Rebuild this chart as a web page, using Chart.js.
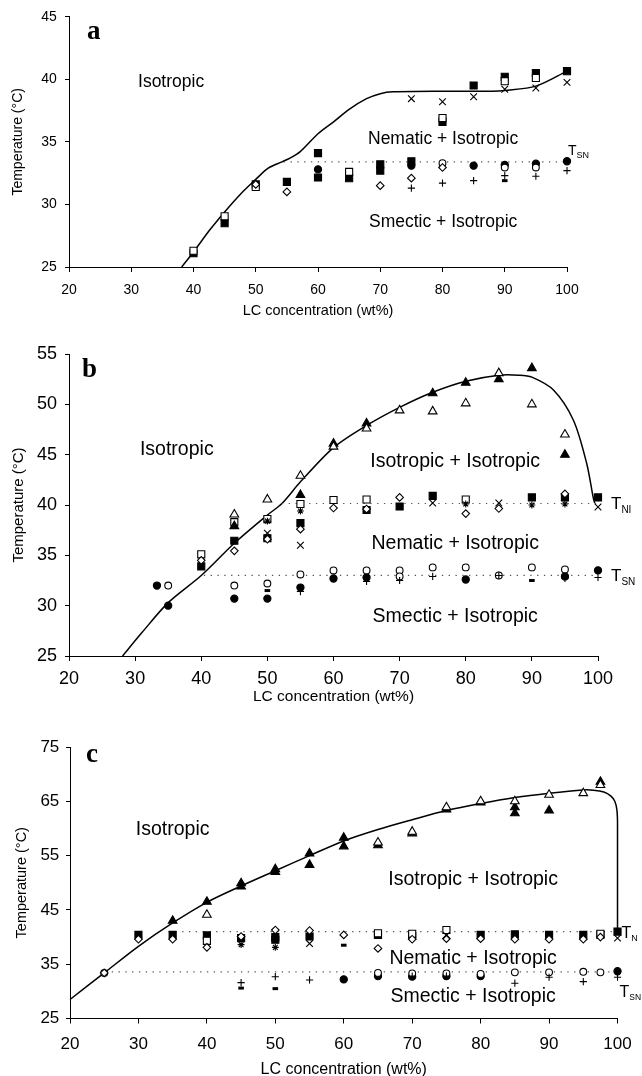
<!DOCTYPE html>
<html>
<head>
<meta charset="utf-8">
<script src="https://cdn.jsdelivr.net/npm/chart.js@4.4.1/dist/chart.umd.min.js"></script>
<style>
  html, body { margin: 0; padding: 0; background: #fff; }
  body { width: 642px; height: 1076px; overflow: hidden; position: relative; }
  .panel { position: absolute; left: 0; width: 642px; }
  canvas { display: block; }
</style>
</head>
<body>
<div class="panel" style="top:0;height:330px"><canvas id="chart-a" width="642" height="330"></canvas></div>
<div class="panel" style="top:335px;height:380px"><canvas id="chart-b" width="642" height="380"></canvas></div>
<div class="panel" style="top:720px;height:380px"><canvas id="chart-c" width="642" height="380"></canvas></div>
<script>
// ---- panel a : [LC wt%, temperature °C] ----
var aFilledSquare = [[40,26.1],[45,28.5],[50,31.6],[55,31.8],[60,34.1],[60,32.15],[65,32.1],[70,33.2],[70,32.7],[75,33.45],[80,36.6],[85,39.5],[90,40.2],[95,40.5],[100,40.65]]
var aOpenSquare = [[40,26.3],[45,29.05],[50,31.4],[65,32.6],[80,36.9],[90,39.85],[95,40.1]]
var aCross = [[75,38.45],[80,38.2],[85,38.6],[90,39.2],[95,39.3],[100,39.75]]
var aDiamond = [[50,31.6],[55,31.0],[70,31.5],[75,32.1],[80,32.95]]
var aPlus = [[75,31.3],[80,31.7],[85,31.9],[90,32.3],[95,32.25],[100,32.7]]
var aOpenCircle = [[80,33.3],[90,32.95],[95,32.95]]
var aFilledCircle = [[60,32.8],[75,33.1],[85,33.1],[90,33.15],[95,33.25],[100,33.45]]
var aDash = [[90,31.9]]
var aBoundary = [[38.1,25],[40,26.2],[42.6,27.95],[45,29.4],[47.5,30.8],[50,32.0],[52,32.9],[54.2,33.4],[55.5,33.7],[57.1,34.2],[60,35.65],[62.5,36.6],[65,37.6],[67.8,38.45],[70,38.85],[72,39.0],[80,39.05],[88,39.05],[90,39.1],[95,39.45],[100,40.65]]
var aTSN = 33.4, aTSNfrom = 54.5

// ---- panel b ----
var bFilledSquare = [[40,33.9],[45,36.45],[50,36.7],[55,38.2],[65,39.5],[70,39.85],[75,40.9],[90,40.75],[95,40.75],[100,40.75]]
var bOpenSquare = [[40,35.1],[45,38.3],[50,38.6],[55,40.1],[60,40.5],[65,40.55],[80,40.55]]
var bCross = [[50,37.2],[55,36.0],[75,40.2],[85,40.2],[100,39.8]]
var bDiamond = [[40,34.5],[45,35.45],[50,36.6],[55,37.6],[60,39.7],[65,39.6],[70,40.75],[80,39.15],[85,39.65],[95,41.1]]
var bAsterisk = [[50,38.4],[55,39.4],[80,40.1],[90,40.0],[95,40.1]]
var bPlus = [[55,31.4],[65,32.4],[70,32.5],[75,32.9],[85,33.0],[95,32.7],[100,32.8]]
var bOpenCircle = [[35,32.0],[45,32.0],[50,32.2],[55,33.1],[60,33.5],[65,33.5],[70,33.5],[70,32.9],[75,33.8],[80,33.8],[85,33.0],[90,33.8],[95,33.6]]
var bFilledCircle = [[33.3,32.0],[35,30.0],[45,30.7],[50,30.7],[55,31.8],[60,32.7],[65,32.8],[80,32.6],[95,32.9],[100,33.5]]
var bDash = [[50,31.5],[90,32.5]]
var bFilledTriangle = [[45,37.9],[55,41.0],[60,46.1],[65,48.1],[75,51.1],[80,52.15],[85,52.5],[90,53.6],[95,45.0]]
var bOpenTriangle = [[45,39.05],[50,40.55],[55,42.9],[60,45.8],[65,47.6],[70,49.4],[75,49.3],[80,50.1],[85,53.1],[90,50.0],[95,47.0]]
var bBoundary = [[28.1,25],[31,27.3],[35,30.3],[40,33.0],[45,36.2],[50,39.0],[52.2,40.15],[55,42.3],[60,45.7],[65,47.9],[70,49.7],[75,51.2],[80,52.3],[85,52.9],[88,52.9],[90,52.7],[93.3,51.4],[96.3,48.4],[98.3,44.1],[99.3,40.65],[99.5,40.2]]
var bTNI = 40.15, bTNIfrom = 52.2
var bTSN = 33.0, bTSNfrom = 40.4

// ---- panel c ----
var cFilledTriangle = [[35,43.0],[40,46.5],[45,49.9],[45,49.3],[50,52.5],[50,52.0],[55,55.4],[55,53.3],[60,58.3],[60,56.7],[65,56.9],[70,59.1],[75,63.5],[80,64.8],[85,63.9],[85,62.8],[90,63.3],[97.5,68.6]]
var cOpenTriangle = [[40,44.1],[65,57.4],[70,59.4],[75,63.9],[80,65.0],[85,65.0],[90,66.2],[95,66.5],[97.5,68.0]]
var cFilledSquare = [[30,40.4],[35,40.4],[40,40.3],[45,39.8],[50,40.0],[50,39.5],[55,40.1],[65,40.4],[70,40.2],[80,40.4],[85,40.5],[90,40.4],[95,40.4],[97.5,40.4],[100,41.0]]
var cOpenSquare = [[40,39.3],[65,40.7],[70,40.6],[75,41.3],[97.5,40.6]]
var cDiamond = [[25,33.4],[30,39.6],[35,39.6],[40,38.1],[45,40.1],[50,41.3],[55,41.2],[60,40.4],[65,37.9],[70,39.6],[75,39.7],[80,39.7],[85,39.6],[90,39.6],[95,39.6],[97.5,40.0]]
var cAsterisk = [[45,38.6],[50,38.1]]
var cCross = [[55,38.8],[75,40.3],[100,39.8]]
var cPlus = [[45,31.6],[50,32.7],[55,32.1],[70,32.8],[75,32.8],[85,31.5],[90,32.6],[95,31.8],[100,32.6]]
var cDash = [[45,30.6],[50,30.5],[60,38.5]]
var cOpenCircle = [[25,33.4],[65,33.4],[70,33.3],[75,33.3],[80,33.2],[85,33.5],[90,33.5],[95,33.6],[97.5,33.5]]
var cFilledCircle = [[60,32.2],[65,32.8],[70,32.7],[75,32.8],[80,32.8],[100,33.7]]
var cBoundary = [[20,28.5],[25,33.4],[30,38.3],[35,42.6],[40,46.4],[45,49.4],[50,52.2],[55,55.0],[60,57.7],[65,59.8],[70,61.6],[75,63.3],[80,64.6],[85,65.7],[90,66.5],[95,67.1],[96.5,67.05],[98,66.7],[99,66.0],[99.6,65.0],[99.9,63.5],[100,61],[100,41.0]]
var cTN = 41.0, cTNfrom = 34.4
var cTSN = 33.6, cTSNfrom = 26.1

var xTicks = [20, 30, 40, 50, 60, 70, 80, 90, 100]

Chart.defaults.font.family = "'Liberation Sans', Arial, sans-serif"
Chart.defaults.color = '#000'

// marker look for each kind of sample
var markerStyles = {
    filledSquare:   {style: 'rect', r: 5, fill: true},
    openSquare:     {style: 'rect', r: 5, fill: false},
    filledTriangle: {style: 'triangle', r: 5, fill: true},
    openTriangle:   {style: 'triangle', r: 5, fill: false},
    filledCircle:   {style: 'circle', r: 3.6, fill: true},
    openCircle:     {style: 'circle', r: 3.4, fill: false},
    diamond:        {style: 'rectRot', r: 3.8, fill: false},
    cross:          {style: 'crossRot', r: 4.7},
    plus:           {style: 'cross', r: 3.6},
    asterisk:       {style: 'star', r: 3.4},
    dash:           {style: 'line', r: 2.8, w: 3}
}

function toXY(pairs){
    return pairs.map(p => ({x: p[0], y: p[1]}))
}

function markerSet(pairs, kind, idx){
    let m = markerStyles[kind]
    return {
        data: toXY(pairs),
        showLine: false,
        pointStyle: m.style,
        pointRadius: m.r,
        pointHoverRadius: m.r,
        pointBackgroundColor: m.fill ? '#000' : '#fff',
        pointBorderColor: '#000',
        pointBorderWidth: m.w || 1.1,
        clip: false,
        order: 100 - idx
    }
}

function curveSet(pairs){
    return {
        data: toXY(pairs),
        showLine: true,
        borderColor: '#000',
        borderWidth: 1.5,
        pointRadius: 0,
        tension: 0.3,
        fill: false,
        clip: false,
        order: 200
    }
}

function dottedSet(from, value){
    return {
        data: [{x: from, y: value}, {x: 100, y: value}],
        showLine: true,
        borderColor: '#555',
        borderWidth: 1.2,
        borderDash: [1.3, 5.5],
        pointRadius: 0,
        fill: false,
        clip: false,
        order: 190
    }
}

// region names, panel letter and T labels on top of the data
var phaseText = {
    id: 'phaseText',
    afterDatasetsDraw(chart, args, opts){
        let ctx = chart.ctx
        let area = chart.chartArea
        let x = chart.scales.x, y = chart.scales.y
        let sans = "'Liberation Sans', Arial, sans-serif"
        ctx.save()
        ctx.fillStyle = '#000'

        ctx.font = 'bold ' + opts.letterSize + "px 'Liberation Serif', 'DejaVu Serif', serif"
        ctx.textAlign = 'left'
        ctx.textBaseline = 'alphabetic'
        ctx.fillText(opts.letter, area.left + opts.letterAt[0], area.top + opts.letterAt[1])

        ctx.font = opts.labelSize + 'px ' + sans
        ctx.textAlign = 'center'
        ctx.textBaseline = 'middle'
        opts.regions.forEach(r => {
            ctx.fillText(r.text, x.getPixelForValue(r.at[0]), y.getPixelForValue(r.at[1]))
        })

        ctx.textAlign = 'left'
        ctx.textBaseline = 'alphabetic'
        opts.temps.forEach(t => {
            let px = x.getPixelForValue(100) + t.dx
            let py = y.getPixelForValue(t.value) + t.dy
            ctx.font = t.size + 'px ' + sans
            ctx.fillText('T', px, py)
            let w = ctx.measureText('T').width
            ctx.font = t.subSize + 'px ' + sans
            ctx.fillText(t.sub, px + w, py + t.size * 0.2)
        })
        ctx.restore()
    }
}

function draw(id, p){
    let datasets = [curveSet(p.boundary)]
    p.dotted.forEach(d => datasets.push(dottedSet(d[0], d[1])))
    p.series.forEach((s, i) => datasets.push(markerSet(s[0], s[1], i)))

    return new Chart(document.getElementById(id), {
        type: 'scatter',
        data: {datasets: datasets},
        plugins: [phaseText],
        options: {
            responsive: false,
            animation: false,
            devicePixelRatio: 1,
            layout: {padding: {top: p.top, right: p.right, bottom: 0, left: 0}},
            scales: {
                x: {
                    type: 'linear', min: 20, max: 100,
                    afterBuildTicks: s => { s.ticks = xTicks.map(v => ({value: v})) },
                    afterFit: s => { s.height = p.xHeight },
                    grid: {drawOnChartArea: false, color: '#000', tickLength: 5},
                    border: {color: '#000', width: 1},
                    ticks: {font: {size: p.tickSize}, color: '#000', padding: p.xPad},
                    title: {display: true, text: 'LC concentration (wt%)', color: '#000',
                            font: {size: p.xTitleSize}, padding: {top: 0, bottom: p.xTitlePad}}
                },
                y: {
                    type: 'linear', min: p.yMin, max: p.yMax,
                    ticks: {stepSize: p.yStep, font: {size: p.tickSize}, color: '#000', padding: p.yPad},
                    afterFit: s => { s.width = p.left },
                    grid: {drawOnChartArea: false, color: '#000', tickLength: 4},
                    border: {color: '#000', width: 1},
                    title: {display: true, text: 'Temperature (°C)', color: '#000',
                            font: {size: p.yTitleSize}, padding: {top: p.yTitlePad, bottom: 0}}
                }
            },
            plugins: {
                legend: {display: false},
                tooltip: {enabled: false},
                phaseText: {
                    letter: p.letter, letterSize: 27, letterAt: p.letterAt,
                    labelSize: p.labelSize, regions: p.regions, temps: p.temps
                }
            }
        }
    })
}

draw('chart-a', {
    boundary: aBoundary,
    dotted: [[aTSNfrom, aTSN]],
    series: [[aFilledSquare,'filledSquare'],[aOpenSquare,'openSquare'],[aFilledCircle,'filledCircle'],
             [aOpenCircle,'openCircle'],[aDiamond,'diamond'],[aCross,'cross'],[aPlus,'plus'],[aDash,'dash']],
    yMin: 25, yMax: 45, yStep: 5,
    top: 16, right: 75, left: 69, xHeight: 63,
    tickSize: 14, xPad: 9.6, yPad: 8.3,
    xTitleSize: 14.5, xTitlePad: 10.3, yTitleSize: 14, yTitlePad: 10,
    letter: 'a', letterAt: [18, 22], labelSize: 17.5,
    regions: [{text: 'Isotropic', at: [36.4, 39.8]},
              {text: 'Nematic + Isotropic', at: [80.1, 35.2]},
              {text: 'Smectic + Isotropic', at: [80.1, 28.6]}],
    temps: [{value: aTSN, sub: 'SN', dx: 1, dy: -7, size: 14, subSize: 9}]
})

draw('chart-b', {
    boundary: bBoundary,
    dotted: [[bTNIfrom, bTNI], [bTSNfrom, bTSN]],
    series: [[bFilledSquare,'filledSquare'],[bOpenSquare,'openSquare'],[bFilledTriangle,'filledTriangle'],
             [bOpenTriangle,'openTriangle'],[bFilledCircle,'filledCircle'],[bOpenCircle,'openCircle'],
             [bDiamond,'diamond'],[bCross,'cross'],[bPlus,'plus'],[bAsterisk,'asterisk'],[bDash,'dash']],
    yMin: 25, yMax: 55, yStep: 5,
    top: 19, right: 44, left: 69, xHeight: 59,
    tickSize: 18, xPad: 7.2, yPad: 8,
    xTitleSize: 15.5, xTitlePad: 8.7, yTitleSize: 15, yTitlePad: 10,
    letter: 'b', letterAt: [13, 23], labelSize: 19.5,
    regions: [{text: 'Isotropic', at: [36.3, 45.5]},
              {text: 'Isotropic + Isotropic', at: [78.4, 44.3]},
              {text: 'Nematic + Isotropic', at: [78.4, 36.2]},
              {text: 'Smectic + Isotropic', at: [78.4, 28.9]}],
    temps: [{value: bTNI, sub: 'NI', dx: 13, dy: 6, size: 17, subSize: 10},
            {value: bTSN, sub: 'SN', dx: 13, dy: 6, size: 17, subSize: 10}]
})

draw('chart-c', {
    boundary: cBoundary,
    dotted: [[cTNfrom, cTN], [cTSNfrom, cTSN]],
    series: [[cFilledSquare,'filledSquare'],[cOpenSquare,'openSquare'],[cFilledTriangle,'filledTriangle'],
             [cOpenTriangle,'openTriangle'],[cFilledCircle,'filledCircle'],[cOpenCircle,'openCircle'],
             [cDiamond,'diamond'],[cCross,'cross'],[cPlus,'plus'],[cAsterisk,'asterisk'],[cDash,'dash']],
    yMin: 25, yMax: 75, yStep: 10,
    top: 27, right: 22, left: 70, xHeight: 81.5,
    tickSize: 17, xPad: 10.3, yPad: 6.7,
    xTitleSize: 16, xTitlePad: 21.1, yTitleSize: 14.5, yTitlePad: 13,
    letter: 'c', letterAt: [16, 15], labelSize: 19.5,
    regions: [{text: 'Isotropic', at: [35.0, 59.7]},
              {text: 'Isotropic + Isotropic', at: [78.9, 50.6]},
              {text: 'Nematic + Isotropic', at: [78.9, 36.1]},
              {text: 'Smectic + Isotropic', at: [78.9, 29.1]}],
    temps: [{value: cTN, sub: 'N', dx: 4, dy: 6, size: 16, subSize: 9},
            {value: cTSN, sub: 'SN', dx: 2, dy: 25, size: 16, subSize: 8.5}]
})
</script>
</body>
</html>
